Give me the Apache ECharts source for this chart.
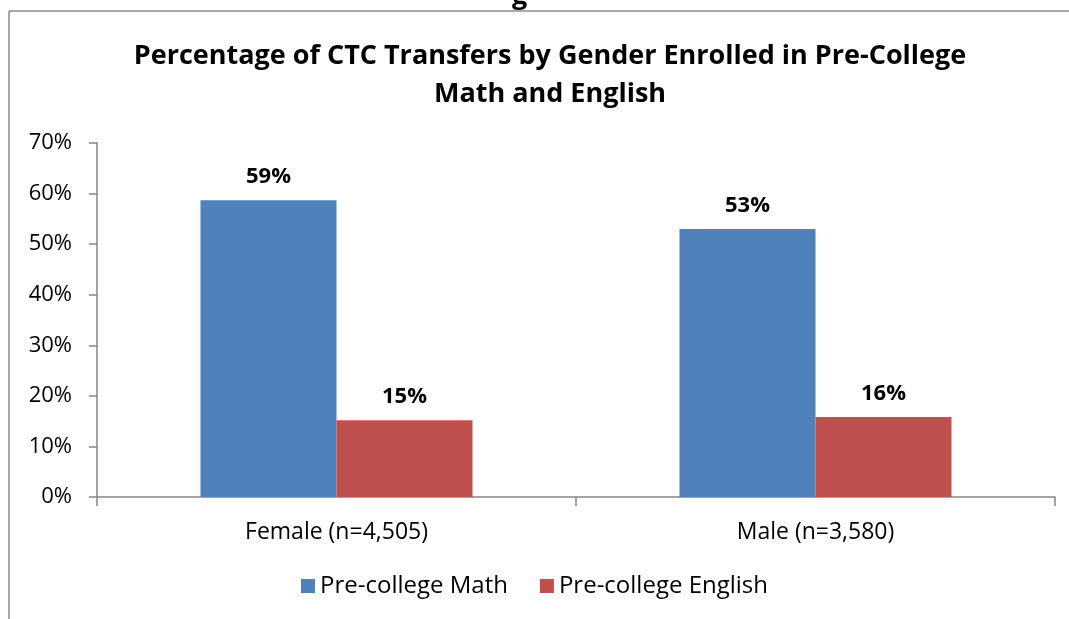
<!DOCTYPE html>
<html>
<head>
<meta charset="utf-8">
<script src="https://cdn.jsdelivr.net/npm/echarts@6/dist/echarts.min.js"></script>
<style>
  body { margin: 0; background: #fff; }
  #main { width: 1069px; height: 619px; }
</style>
</head>
<body>
<div id="main"></div>
<script>
let categories = ['Female (n=4,505)', 'Male (n=3,580)'];
let mathValues = [58.7, 53.0];
let englishValues = [15.2, 15.8];
let yTicks = [0, 10, 20, 30, 40, 50, 60, 70];

let myChart = echarts.init(document.getElementById('main'));

let font = 'Open Sans';

let labelStyle = {
    show: true,
    position: 'top',
    distance: 12,
    color: '#000',
    fontFamily: font,
    fontWeight: 'bold',
    fontSize: 22,
    formatter: p => Math.round(p.value) + '%'
};

let option = {
    animation: false,
    backgroundColor: '#fff',
    title: {
        text: 'Percentage of CTC Transfers by Gender Enrolled in Pre-College\nMath and English',
        left: 545,
        textAlign: 'center',
        top: 32,
        textStyle: {
            fontFamily: font,
            fontWeight: 'bold',
            fontSize: 27,
            lineHeight: 38,
            color: '#000'
        }
    },
    graphic: [
        { type: 'line', shape: { x1: 9, y1: 11, x2: 1069, y2: 11 }, style: { stroke: '#8c8c8c', lineWidth: 1.5 } },
        { type: 'line', shape: { x1: 9, y1: 11, x2: 9, y2: 619 }, style: { stroke: '#8c8c8c', lineWidth: 1.5 } },
        { type: 'text', left: 512, top: -17, style: { text: 'g', fontFamily: font, fontWeight: 'bold', fontSize: 27, fill: '#000' } }
    ],
    legend: {
        bottom: 16,
        left: 'center',
        itemWidth: 14,
        itemHeight: 14,
        itemGap: 32,
        icon: 'rect',
        textStyle: { fontFamily: font, fontSize: 24, color: '#000' },
        data: ['Pre-college Math', 'Pre-college English']
    },
    grid: {
        left: 97,
        right: 14,
        top: 143,
        bottom: 122
    },
    xAxis: {
        type: 'category',
        data: categories,
        axisLine: { lineStyle: { color: '#868686', width: 1.5 } },
        axisTick: { show: true, length: 9, lineStyle: { color: '#868686', width: 1.5 } },
        axisLabel: { margin: 24, fontFamily: font, fontSize: 23, color: '#000' }
    },
    yAxis: {
        type: 'value',
        min: 0,
        max: 70,
        interval: 10,
        axisLine: { show: true, lineStyle: { color: '#868686', width: 1.5 } },
        axisTick: { show: true, length: 8, lineStyle: { color: '#868686', width: 1.5 } },
        splitLine: { show: false },
        axisLabel: {
            margin: 25,
            fontFamily: font,
            fontSize: 22,
            color: '#000',
            formatter: v => yTicks.includes(v) ? v + '%' : ''
        }
    },
    series: [
        {
            name: 'Pre-college Math',
            type: 'bar',
            data: mathValues,
            barWidth: 136,
            barGap: '0%',
            itemStyle: { color: '#4f81bd' },
            label: labelStyle
        },
        {
            name: 'Pre-college English',
            type: 'bar',
            data: englishValues,
            barWidth: 136,
            barGap: '0%',
            itemStyle: { color: '#c0504d' },
            label: labelStyle
        }
    ]
};

myChart.setOption(option);
</script>
</body>
</html>
